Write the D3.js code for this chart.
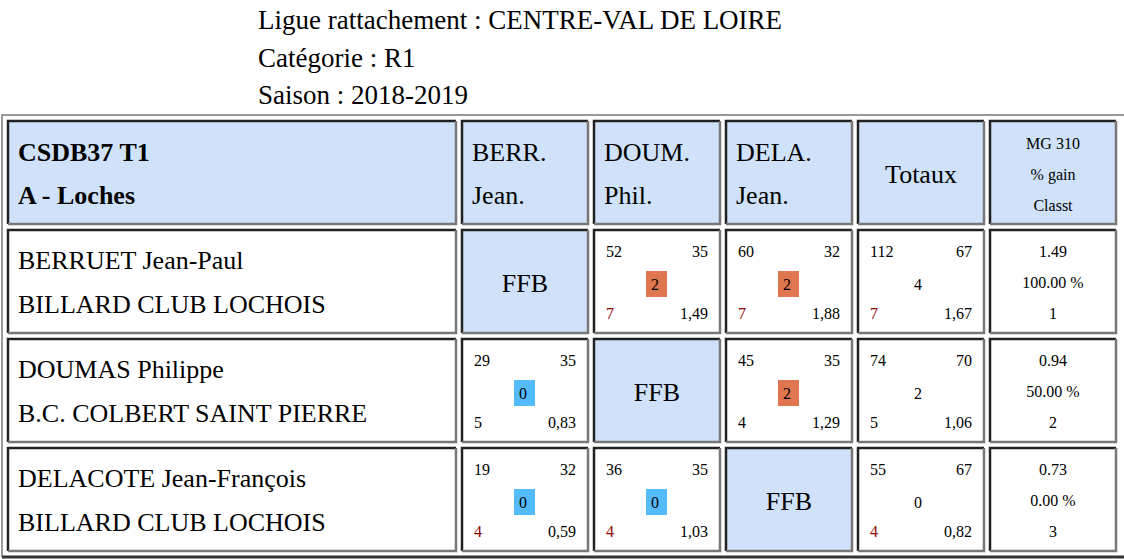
<!DOCTYPE html>
<html><head><meta charset="utf-8">
<script src="https://cdn.jsdelivr.net/npm/d3@7"></script>
<style>body{margin:0;background:#fff}svg text{font-family:'Liberation Serif','Times New Roman',Tinos,'DejaVu Serif',serif}</style>
</head><body><svg id="c" width="1124" height="559"></svg>
<script>
const titleLines = ["Ligue rattachement : CENTRE-VAL DE LOIRE","Catégorie : R1","Saison : 2018-2019"];
const teamHeader = ["CSDB37 T1","A - Loches"];
const colHeaders = [["BERR.","Jean."],["DOUM.","Phil."],["DELA.","Jean."]];
const statHeader = ["MG 310","% gain","Classt"];
const players = [["BERRUET Jean-Paul","BILLARD CLUB LOCHOIS"],["DOUMAS Philippe","B.C. COLBERT SAINT PIERRE"],["DELACOTE Jean-François","BILLARD CLUB LOCHOIS"]];
// match cells: [pts, dist, result, reprises, moyenne] ; null = FFB
const matches = [
  [null,[52,35,2,7,"1,49"],[60,32,2,7,"1,88"]],
  [[29,35,0,5,"0,83"],null,[45,35,2,4,"1,29"]],
  [[19,32,0,4,"0,59"],[36,35,0,4,"1,03"],null]
];
const totals = [[112,67,4,7,"1,67"],[74,70,2,5,"1,06"],[55,67,0,4,"0,82"]];
const stats = [["1.49","100.00 %","1"],["0.94","50.00 %","2"],["0.73","0.00 %","3"]];
const redRows = [true,false,true];

const FF = "'Liberation Serif','Times New Roman',Tinos,'DejaVu Serif',serif";
const svg = d3.select("#c");
const headFill = "#cfe2f9";
svg.selectAll("text.title").data(titleLines).join("text").attr("font-family",FF)
  .attr("x",258).attr("y",29+0).attr("y",(d,i)=>29+i*37.5).attr("font-size",27).attr("fill","#000").text(d=>d);

svg.append("path").attr("d","M2,557V115H1124").attr("stroke","#999").attr("stroke-width",2).attr("fill","none");
svg.append("path").attr("d","M2,557H1124").attr("stroke","#333").attr("stroke-width",3).attr("fill","none");

const colX = [8,462,594,726,858,990], colW=[448,126,126,126,126,126];
const rowY = [121,230,339,448], rowH=103;

function cell(x,y,w,h,fill){
  const g = svg.append("g").attr("transform",`translate(${x},${y})`).attr("font-family",FF);
  g.append("rect").attr("width",w).attr("height",h).attr("fill",fill);
  g.append("path").attr("d",`M0,${h}V0H${w}`).attr("stroke","#222").attr("stroke-width",2.5).attr("fill","none");
  g.append("path").attr("d",`M0,${h}H${w}V0`).attr("stroke","#777").attr("stroke-width",2.5).attr("fill","none");
  return g;
}
let g = cell(colX[0],rowY[0],colW[0],rowH,headFill);
g.selectAll("text").data(teamHeader).join("text").attr("x",10).attr("y",(d,i)=>40+i*43)
  .attr("font-size",26).attr("font-weight","bold").text(d=>d);
colHeaders.forEach((h,j)=>{
  const c = cell(colX[j+1],rowY[0],colW[j+1],rowH,headFill);
  c.selectAll("text").data(h).join("text").attr("x",10).attr("y",(d,i)=>40+i*43).attr("font-size",26).text(d=>d);
});
g = cell(colX[4],rowY[0],colW[4],rowH,headFill);
g.append("text").attr("x",63).attr("y",62).attr("text-anchor","middle").attr("font-size",26).text("Totaux");
g = cell(colX[5],rowY[0],colW[5],rowH,headFill);
g.selectAll("text").data(statHeader).join("text").attr("x",63).attr("y",(d,i)=>28+i*31)
  .attr("text-anchor","middle").attr("font-size",16).text(d=>d);

function scoreCell(c,d,red){
  c.append("text").attr("x",12).attr("y",27).attr("font-size",16).text(d[0]);
  c.append("text").attr("x",114).attr("y",27).attr("text-anchor","end").attr("font-size",16).text(d[1]);
  c.append("text").attr("x",12).attr("y",89).attr("font-size",16).attr("fill",red?"#8b0000":"#000").text(d[3]);
  c.append("text").attr("x",114).attr("y",89).attr("text-anchor","end").attr("font-size",16).text(d[4]);
}
players.forEach((p,i)=>{
  const y = rowY[i+1];
  const c0 = cell(colX[0],y,colW[0],rowH,"#fff");
  c0.selectAll("text").data(p).join("text").attr("x",10).attr("y",(d,k)=>39+k*44).attr("font-size",26).text(d=>d);
  matches[i].forEach((m,j)=>{
    if(m===null){
      const c = cell(colX[j+1],y,colW[j+1],rowH,headFill);
      c.append("text").attr("x",63).attr("y",62).attr("text-anchor","middle").attr("font-size",26).text("FFB");
    } else {
      const c = cell(colX[j+1],y,colW[j+1],rowH,"#fff");
      scoreCell(c,m,redRows[i]);
      c.append("rect").attr("x",52).attr("y",41).attr("width",21).attr("height",26)
        .attr("fill",m[2]===2?"#df7650":"#55bbff");
      c.append("text").attr("x",57).attr("y",60).attr("font-size",16).text(m[2]);
    }
  });
  const t = cell(colX[4],y,colW[4],rowH,"#fff");
  scoreCell(t,totals[i],redRows[i]);
  t.append("text").attr("x",60).attr("y",60).attr("text-anchor","middle").attr("font-size",16).text(totals[i][2]);
  const s = cell(colX[5],y,colW[5],rowH,"#fff");
  s.selectAll("text").data(stats[i]).join("text").attr("x",63).attr("y",(d,k)=>27+k*31)
    .attr("text-anchor","middle").attr("font-size",16).text(d=>d);
});
</script></body></html>
